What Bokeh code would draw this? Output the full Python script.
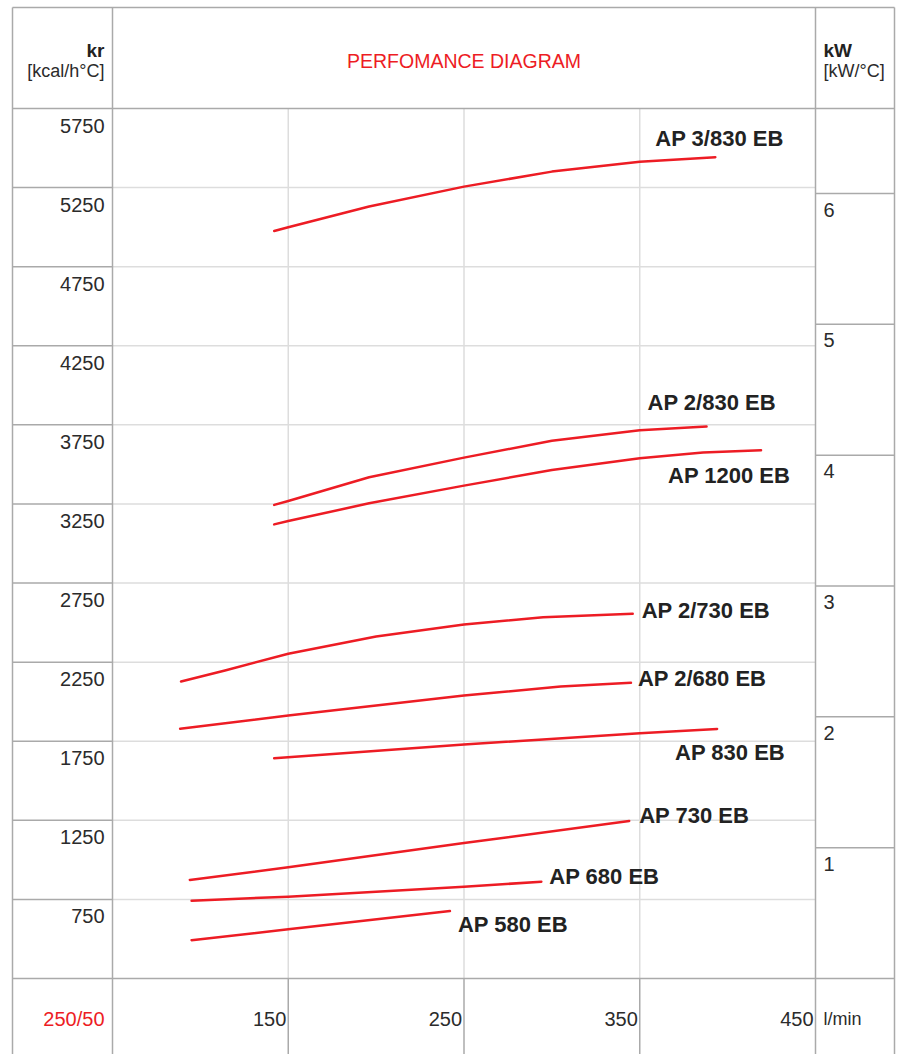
from bokeh.plotting import figure
from bokeh.models import Range1d
from bokeh.core.properties import value
from bokeh.embed import file_html
from bokeh.resources import INLINE

# ---------------- data ----------------
flow_ticks = [150, 250, 350, 450]                     # l/min
kcal_ticks = [5750, 5250, 4750, 4250, 3750, 3250, 2750, 2250, 1750, 1250, 750]
kw_ticks = [1, 2, 3, 4, 5, 6]

ap3_830_flow = [142, 150, 196, 250, 300, 350, 393]
ap3_830_kr = [4976, 4999, 5130, 5256, 5351, 5414, 5442]

ap2_830_flow = [142, 150, 196, 250, 300, 350, 388]
ap2_830_kr = [3244, 3269, 3419, 3543, 3649, 3716, 3739]

ap1200_flow = [142, 150, 196, 250, 300, 350, 386, 419]
ap1200_kr = [3121, 3142, 3254, 3366, 3465, 3539, 3575, 3590]

ap2_730_flow = [89, 114, 150, 200, 250, 295, 346]
ap2_730_kr = [2128, 2197, 2303, 2412, 2488, 2534, 2556]

ap2_680_flow = [88.5, 150, 250, 305, 345]
ap2_680_kr = [1829, 1913, 2039, 2096, 2119]

ap830_flow = [142, 250, 350, 394]
ap830_kr = [1642, 1729, 1801, 1828]

ap730_flow = [94, 150, 250, 344]
ap730_kr = [873, 953, 1106, 1246]

ap680_flow = [95, 150, 250, 294]
ap680_kr = [742, 767, 830, 862]

ap580_flow = [95, 150, 242]
ap580_kr = [492, 561, 676]

model_names = ["AP 3/830 EB", "AP 2/830 EB", "AP 1200 EB", "AP 2/730 EB",
               "AP 2/680 EB", "AP 830 EB", "AP 730 EB", "AP 680 EB", "AP 580 EB"]

series = [(ap3_830_flow, ap3_830_kr), (ap2_830_flow, ap2_830_kr),
          (ap1200_flow, ap1200_kr), (ap2_730_flow, ap2_730_kr),
          (ap2_680_flow, ap2_680_kr), (ap830_flow, ap830_kr),
          (ap730_flow, ap730_kr), (ap680_flow, ap680_kr), (ap580_flow, ap580_kr)]

# label offsets (screen px) from the end of each curve
label_dx = [-60, -59, -93, 9, 7, -42, 10, 8, 8]
label_dy = [-19, -24, 25, -3, -4, 24, -5, -5, 13]

# ---------------- layout ----------------
W, H = 904, 1054
L0, PL, PR, R0 = 12, 112, 815, 894     # px: outer left, plot left, plot right, outer right
T0, HB, PB = 7, 108, 978               # px: outer top, header bottom, plot bottom
X_MIN, X_MAX = 50, 450
Y_MIN, Y_MAX = 250, 5750
KW_TOP = 6.65                          # kW value at the top of the plot area

RED = "#ed1c24"
DARK = "#aaaaaa"
LIGHT = "#dddddd"
TXT = "#2b2b2b"
FONT = value("Liberation Sans")


def fx(px):
    return X_MIN + (px - PL) * (X_MAX - X_MIN) / (PR - PL)


def fy(py):
    return Y_MAX - (py - HB) * (Y_MAX - Y_MIN) / (PB - HB)


def y_to_kw(y):
    return (y - Y_MIN) * KW_TOP / (Y_MAX - Y_MIN)


p = figure(width=W, height=H, output_backend="svg", toolbar_location=None,
           x_range=Range1d(fx(0), fx(W)), y_range=Range1d(fy(H), fy(0)),
           x_axis_location=None, y_axis_location=None, min_border=0,
           outline_line_color=None, background_fill_color="white",
           border_fill_color="white")
p.extra_y_ranges = {"kw": Range1d(y_to_kw(fy(H)), y_to_kw(fy(0)))}
p.grid.visible = False

xl, xr = fx(L0), fx(R0)
yt, yb = fy(T0), fy(H)

# light inner grid
inner_h = kcal_ticks[1:]
p.segment(x0=[X_MIN] * len(inner_h), y0=inner_h, x1=[X_MAX] * len(inner_h), y1=inner_h,
          line_color=LIGHT, line_width=1.5)
inner_v = flow_ticks[:-1]
p.segment(x0=inner_v, y0=[Y_MIN] * len(inner_v), x1=inner_v, y1=[Y_MAX] * len(inner_v),
          line_color=LIGHT, line_width=1.5)

# dark table lines
p.segment(x0=[xl] * len(inner_h), y0=inner_h, x1=[X_MIN] * len(inner_h), y1=inner_h,
          line_color=DARK, line_width=1.5)
p.segment(x0=inner_v, y0=[Y_MIN] * len(inner_v), x1=inner_v, y1=[yb] * len(inner_v),
          line_color=DARK, line_width=1.5)
p.segment(x0=[xl, xl, xl, xl, xr, X_MIN, X_MAX],
          y0=[yt, Y_MAX, Y_MIN, yt, yt, yt, yt],
          x1=[xr, xr, xr, xl, xr, X_MIN, X_MAX],
          y1=[yt, Y_MAX, Y_MIN, yb, yb, yb, yb],
          line_color=DARK, line_width=1.5)
p.segment(x0=[X_MAX] * len(kw_ticks), y0=kw_ticks, x1=[xr] * len(kw_ticks), y1=kw_ticks,
          line_color=DARK, line_width=1.5, y_range_name="kw")

# curves
for fl, kr in series:
    p.line(fl, kr, line_color=RED, line_width=2.5, line_join="round", line_cap="round")

# curve labels
p.text(x=[s[0][-1] for s in series], y=[s[1][-1] for s in series], text=model_names,
       x_offset=label_dx, y_offset=label_dy, text_font=FONT, text_font_style="bold",
       text_font_size="22px", text_color="#222222", text_align="left",
       text_baseline="middle")

# left tick labels
p.text(x=[X_MIN] * len(kcal_ticks), y=kcal_ticks, text=[str(v) for v in kcal_ticks],
       x_offset=-8, y_offset=17, text_font=FONT, text_font_size="20px",
       text_color=TXT, text_align="right", text_baseline="middle")

# right tick labels (kW)
p.text(x=[X_MAX] * len(kw_ticks), y=kw_ticks, text=[str(v) for v in kw_ticks],
       x_offset=8, y_offset=16, text_font=FONT, text_font_size="20px",
       text_color=TXT, text_align="left", text_baseline="middle", y_range_name="kw")

# bottom tick labels
p.text(x=flow_ticks, y=[Y_MIN] * len(flow_ticks), text=[str(v) for v in flow_ticks],
       x_offset=-2, y_offset=40, text_font=FONT, text_font_size="20px",
       text_color=TXT, text_align="right", text_baseline="middle")
p.text(x=[X_MIN], y=[Y_MIN], text=["250/50"], x_offset=-8, y_offset=40,
       text_font=FONT, text_font_size="20px", text_color=RED,
       text_align="right", text_baseline="middle")
p.text(x=[X_MAX], y=[Y_MIN], text=["l/min"], x_offset=8, y_offset=40,
       text_font=FONT, text_font_size="18px", text_color=TXT,
       text_align="left", text_baseline="middle")

# header
p.text(x=[X_MIN], y=[Y_MAX], text=["kr"], x_offset=-8, y_offset=-58,
       text_font=FONT, text_font_style="bold", text_font_size="19px",
       text_color="#222222", text_align="right", text_baseline="middle")
p.text(x=[X_MIN], y=[Y_MAX], text=["[kcal/h°C]"], x_offset=-8, y_offset=-38,
       text_font=FONT, text_font_size="18px", text_color=TXT,
       text_align="right", text_baseline="middle")
p.text(x=[(X_MIN + X_MAX) / 2], y=[Y_MAX], text=["PERFOMANCE DIAGRAM"], y_offset=-48,
       text_font=FONT, text_font_size="19.5px", text_color=RED,
       text_align="center", text_baseline="middle")
p.text(x=[X_MAX], y=[Y_MAX], text=["kW"], x_offset=8, y_offset=-58,
       text_font=FONT, text_font_style="bold", text_font_size="19px",
       text_color="#222222", text_align="left", text_baseline="middle")
p.text(x=[X_MAX], y=[Y_MAX], text=["[kW/°C]"], x_offset=8, y_offset=-38,
       text_font=FONT, text_font_size="18px", text_color=TXT,
       text_align="left", text_baseline="middle")

open("out.html", "w").write(file_html(p, INLINE))
